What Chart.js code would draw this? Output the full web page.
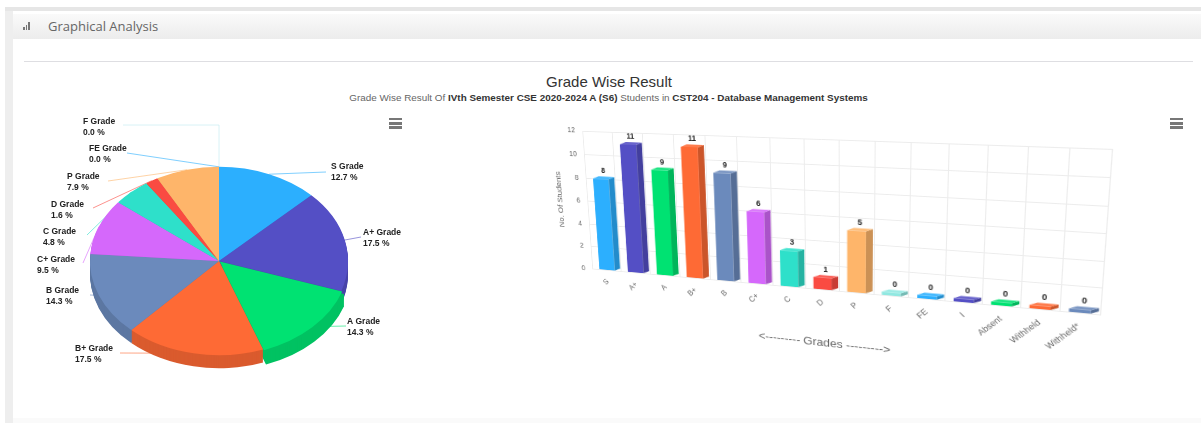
<!DOCTYPE html>
<html>
<head>
<meta charset="utf-8">
<title>Grade Wise Result</title>
<script src="https://cdn.jsdelivr.net/npm/chart.js@4"></script>
<style>
  html, body { margin: 0; padding: 0; background: #fff; overflow: hidden; }
  body { width: 1201px; height: 423px; position: relative; font-family: "Liberation Sans", Arial, sans-serif; }
  .edge { position: absolute; left: 5px; top: 8px; width: 8px; height: 415px; background: #eee; }
  .band { position: absolute; left: 5px; right: 0; top: 7px; height: 4px; background: #e6e6e6; }
  .panel-head { position: absolute; left: 13px; right: 0; top: 14px; height: 25px; background: linear-gradient(#fafafa, #ececec); }
  .panel-title { position: absolute; left: 48px; top: 17px; font: 13px "Open Sans", sans-serif; color: #666; }
  .signal { position: absolute; left: 23px; top: 22px; width: 7px; height: 8px; }
  .signal i { position: absolute; bottom: 0; width: 1.5px; background: #777; }
  .rule { position: absolute; left: 24px; width: 1169px; top: 61px; height: 1px; background: #dedee2; }
  .foot { position: absolute; left: 13px; right: 0; top: 418px; height: 5px; background: #fafafa; }
  .title { position: absolute; left: 0; width: 1218px; top: 73px; text-align: center; font-size: 15px; color: #333; }
  .subtitle { position: absolute; left: 0; width: 1217px; top: 92px; text-align: center; font-size: 9.9px; color: #666; }
  .subtitle b { color: #333; }
  .menu { position: absolute; top: 118px; width: 13px; height: 11px; background: repeating-linear-gradient(#777 0, #777 2.5px, #fff 2.5px, #fff 4.25px); }
  canvas { position: absolute; left: 0; top: 0; }
  #pieChart { left: 0; top: 100px; }
  #barChart { transform-origin: 0 0; }
</style>
</head>
<body>
  <div class="edge"></div>
  <div class="band"></div>
  <div class="panel-head"></div>
  <div class="foot"></div>
  <div class="signal"><i style="left:0;height:3px"></i><i style="left:2.5px;height:5px"></i><i style="left:5px;height:8px"></i></div>
  <div class="panel-title">Graphical Analysis</div>
  <div class="rule"></div>
  <div class="title">Grade Wise Result</div>
  <div class="subtitle">Grade Wise Result Of <b>IVth Semester CSE 2020-2024 A (S6)</b> Students in <b>CST204 - Database Management Systems</b></div>
  <canvas id="pieChart" width="438" height="322"></canvas>
  <canvas id="barChart" width="590" height="250"></canvas>
  <div class="menu" style="left:389px"></div>
  <div class="menu" style="left:1170px"></div>

<script>
const pieGrades = ["S Grade", "A+ Grade", "A Grade", "B+ Grade", "B Grade", "C+ Grade", "C Grade", "D Grade", "P Grade", "F Grade", "FE Grade"];
const pieCounts = [8, 11, 9, 11, 9, 6, 3, 1, 5, 0, 0];
const piePercents = ["12.7", "17.5", "14.3", "17.5", "14.3", "9.5", "4.8", "1.6", "7.9", "0.0", "0.0"];

const barCategories = ["S", "A+", "A", "B+", "B", "C+", "C", "D", "P", "F", "FE", "I", "Absent", "Withheld", "Withheld*"];
const barCounts = [8, 11, 9, 11, 9, 6, 3, 1, 5, 0, 0, 0, 0, 0, 0];

const palette = ["#2caffe", "#544fc5", "#00e272", "#fe6a35", "#6b8abc", "#d568fb", "#2ee0ca", "#fa4b42", "#feb56a", "#91e8e1", "#2caffe", "#544fc5", "#00e272", "#fe6a35", "#6b8abc"];

// where each pie label sits on the page: [text left, first line y, leader end x, leader end y]
const pieLabelSpots = [
  [331, 167, 326, 172], [363, 233, 361, 237], [347, 322, 346, 326], [75, 349, 120, 353],
  [46, 291, 90, 295], [37, 260, 83, 263], [43, 232, 87, 235], [51, 205, 93, 208],
  [67, 177, 108, 181], [83, 122, 123, 125], [89, 149, 127, 153]
];

// corners of the back wall on the page, clockwise from top left
const wallQuad = [[583, 131], [1112, 149], [1100, 315], [593, 269]];

const pieSquash = 0.73;
const pieDepth = 13;
const pieTop = 100;
const barDepth = { x: 7, y: 3 };

function shade(hex, amount) {
  const n = parseInt(hex.slice(1), 16);
  const mix = c => Math.round(amount < 0 ? c * (1 + amount) : c + (255 - c) * amount);
  return `rgb(${mix(n >> 16)}, ${mix((n >> 8) & 255)}, ${mix(n & 255)})`;
}

// leader lines go under the pie, then its rim, then the tilted top from the library
const tiltedPie = {
  id: "tiltedPie",
  beforeDatasetsDraw(chart) {
    const ctx = chart.ctx;
    const arcs = chart.getDatasetMeta(0).data;
    const cy = arcs[0].y;
    ctx.save();
    ctx.globalAlpha = 0.6;
    arcs.forEach((arc, i) => {
      const mid = (arc.startAngle + arc.endAngle) / 2;
      const rimX = arc.x + Math.cos(mid) * arc.outerRadius;
      const rimY = arc.y + Math.sin(mid) * arc.outerRadius * pieSquash;
      const endX = pieLabelSpots[i][2];
      const endY = pieLabelSpots[i][3] - pieTop;
      ctx.beginPath();
      ctx.moveTo(endX, endY);
      if (pieGrades[i] === "F Grade") ctx.lineTo(rimX, endY);
      ctx.lineTo(rimX, rimY);
      ctx.lineWidth = 1;
      ctx.strokeStyle = i === 9 ? "#bfe9f0" : palette[i];
      ctx.stroke();
    });
    ctx.restore();
    for (let d = pieDepth; d > 0; d--) {
      ctx.save();
      ctx.translate(0, cy + d);
      ctx.scale(1, pieSquash);
      ctx.translate(0, -cy);
      arcs.forEach((arc, i) => {
        if (arc.endAngle - arc.startAngle <= 0) return;
        const mid = (arc.startAngle + arc.endAngle) / 2;
        const off = arc.options.offset || 0;
        ctx.beginPath();
        ctx.moveTo(arc.x + Math.cos(mid) * off, arc.y + Math.sin(mid) * off);
        ctx.arc(arc.x + Math.cos(mid) * off, arc.y + Math.sin(mid) * off, arc.outerRadius, arc.startAngle, arc.endAngle);
        ctx.closePath();
        ctx.fillStyle = shade(palette[i], -0.14);
        ctx.fill();
      });
      ctx.restore();
    }
    ctx.save();
    ctx.translate(0, cy);
    ctx.scale(1, pieSquash);
    ctx.translate(0, -cy);
  },
  afterDatasetsDraw(chart) {
    const ctx = chart.ctx;
    ctx.restore();
    pieGrades.forEach((grade, i) => {
      const [textX, textY] = pieLabelSpots[i];
      ctx.fillStyle = "#222";
      ctx.font = "bold 8.5px 'Liberation Sans', Arial, sans-serif";
      ctx.textBaseline = "middle";
      ctx.textAlign = "left";
      ctx.fillText(grade, textX, textY - pieTop);
      ctx.fillText(piePercents[i] + " %", textX, textY + 11 - pieTop);
    });
  }
};

// side and top faces of each column, and the value above it
const columnFaces = {
  id: "columnFaces",
  afterDatasetsDraw(chart) {
    const ctx = chart.ctx;
    chart.getDatasetMeta(0).data.forEach((bar, i) => {
      const left = bar.x - bar.width / 2;
      const right = bar.x + bar.width / 2;
      const top = Math.min(bar.y, bar.base);
      const bottom = Math.max(bar.y, bar.base);
      ctx.fillStyle = shade(palette[i], -0.2);
      ctx.beginPath();
      ctx.moveTo(right, top);
      ctx.lineTo(right + barDepth.x, top - barDepth.y);
      ctx.lineTo(right + barDepth.x, bottom - barDepth.y);
      ctx.lineTo(right, bottom);
      ctx.closePath();
      ctx.fill();
      ctx.fillStyle = shade(palette[i], 0.12);
      ctx.beginPath();
      ctx.moveTo(left, top);
      ctx.lineTo(left + barDepth.x, top - barDepth.y);
      ctx.lineTo(right + barDepth.x, top - barDepth.y);
      ctx.lineTo(right, top);
      ctx.closePath();
      ctx.fill();
      ctx.fillStyle = "#222";
      ctx.font = "bold 8.5px 'Liberation Sans', Arial, sans-serif";
      ctx.textAlign = "center";
      ctx.textBaseline = "bottom";
      ctx.fillText(String(barCounts[i]), bar.x + barDepth.x / 2, top - barDepth.y - 2);
    });
  }
};

new Chart(document.getElementById("pieChart"), {
  type: "pie",
  data: {
    labels: pieGrades,
    datasets: [{
      data: pieCounts,
      backgroundColor: palette.slice(0, pieGrades.length),
      borderWidth: 0,
      offset: pieGrades.map(g => (g === "A Grade" ? 4 : 0))
    }]
  },
  options: {
    responsive: false,
    animation: false,
    radius: 129,
    plugins: { legend: { display: false }, tooltip: { enabled: false } }
  },
  plugins: [tiltedPie]
});

const barChart = new Chart(document.getElementById("barChart"), {
  type: "bar",
  data: {
    labels: barCategories,
    datasets: [{
      data: barCounts,
      backgroundColor: palette,
      borderWidth: 0,
      minBarLength: 4,
      barPercentage: 0.54,
      categoryPercentage: 1
    }]
  },
  options: {
    responsive: false,
    animation: false,
    layout: { padding: { top: 12, right: 12 } },
    scales: {
      x: {
        grid: { color: "#ececec", drawTicks: false },
        border: { color: "#ececec" },
        title: { display: true, text: "<--------- Grades --------->", color: "#666", font: { size: 13, family: "'Liberation Sans', Arial, sans-serif" }, padding: { top: 1, bottom: 0 } },
        ticks: { color: "#666", minRotation: 45, maxRotation: 45, autoSkip: false, padding: 9, font: { size: 9, family: "'Liberation Sans', Arial, sans-serif" } }
      },
      y: {
        min: 0,
        max: 12,
        grid: { color: "#ececec", drawTicks: false },
        border: { color: "#ececec" },
        title: { display: true, text: "No. Of Students", color: "#666", font: { size: 9.5, family: "'Liberation Sans', Arial, sans-serif" }, padding: { top: 0, bottom: 0 } },
        ticks: { color: "#666", stepSize: 2, padding: 10, font: { size: 8.5, family: "'Liberation Sans', Arial, sans-serif" } }
      }
    },
    plugins: { legend: { display: false }, tooltip: { enabled: false } }
  },
  plugins: [columnFaces]
});

// map the chart area of the bar canvas onto the wall corners
function wallTransform(area, quad) {
  const [[x0, y0], [x1, y1], [x2, y2], [x3, y3]] = quad;
  const dx1 = x1 - x2, dx2 = x3 - x2, sx = x0 - x1 + x2 - x3;
  const dy1 = y1 - y2, dy2 = y3 - y2, sy = y0 - y1 + y2 - y3;
  const det = dx1 * dy2 - dx2 * dy1;
  const g = (sx * dy2 - dx2 * sy) / det;
  const h = (dx1 * sy - sx * dy1) / det;
  const a = x1 - x0 + g * x1, b = x3 - x0 + h * x3;
  const d = y1 - y0 + g * y1, e = y3 - y0 + h * y3;
  const w = area.right - area.left, t = area.bottom - area.top;
  // unit square first, so shift and scale the canvas coordinates into it
  const A = a / w, B = b / t, C = x0 - A * area.left - B * area.top;
  const D = d / w, E = e / t, F = y0 - D * area.left - E * area.top;
  const G = g / w, H = h / t, I = 1 - G * area.left - H * area.top;
  return `matrix3d(${A / I},${D / I},0,${G / I},${B / I},${E / I},0,${H / I},0,0,1,0,${C / I},${F / I},0,1)`;
}

document.getElementById("barChart").style.transform = wallTransform(barChart.chartArea, wallQuad);
</script>
</body>
</html>
